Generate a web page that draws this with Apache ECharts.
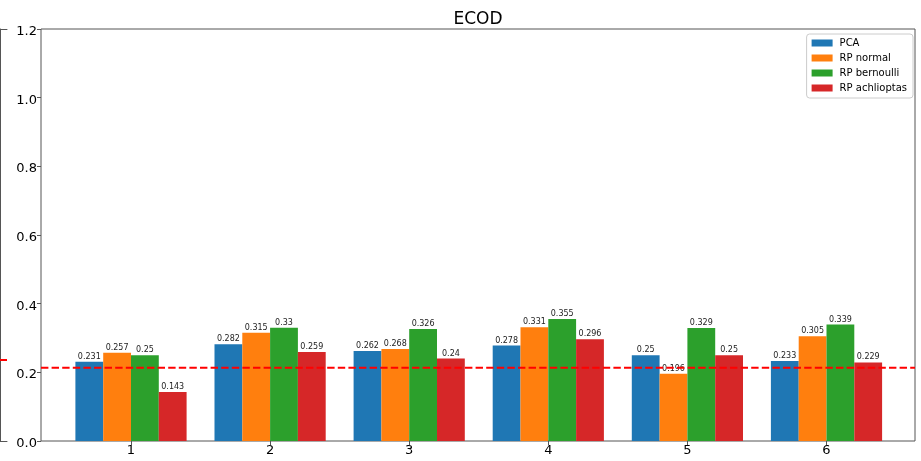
<!DOCTYPE html>
<html>
<head>
<meta charset="utf-8">
<script src="https://cdn.jsdelivr.net/npm/echarts@6/dist/echarts.min.js"></script>
<style>html,body{margin:0;padding:0;background:#fff}#c{width:921px;height:461px}</style>
</head>
<body>
<div id="c"></div>
<script>
const categories = ['1', '2', '3', '4', '5', '6'];
const seriesNames = ['PCA', 'RP normal', 'RP bernoulli', 'RP achlioptas'];
const pca = [0.231, 0.282, 0.262, 0.278, 0.25, 0.233];
const rpNormal = [0.257, 0.315, 0.268, 0.331, 0.196, 0.305];
const rpBernoulli = [0.25, 0.33, 0.326, 0.355, 0.329, 0.339];
const rpAchlioptas = [0.143, 0.259, 0.24, 0.296, 0.25, 0.229];
const yTicks = [0, 0.2, 0.4, 0.6, 0.8, 1.0, 1.2];
const threshold = 0.2135;
const leftPanelThreshold = 0.236;

const colors = ['#1f77b4', '#ff7f0e', '#2ca02c', '#d62728'];
const values = [pca, rpNormal, rpBernoulli, rpAchlioptas];
const FONT = 'DejaVu Sans';
const spine = '#555';

const chart = echarts.init(document.getElementById('c'), null, {renderer: 'canvas'});

const barSeries = seriesNames.map((name, i) => ({
  name: name,
  type: 'bar',
  xAxisIndex: 1,
  yAxisIndex: 1,
  data: values[i],
  barWidth: 27.8,
  barGap: '0%',
  itemStyle: {color: colors[i]},
  label: {
    show: true,
    position: 'top',
    distance: 1,
    fontFamily: FONT,
    fontSize: 8,
    color: '#222',
    formatter: p => String(p.value)
  },
  z: 2
}));

const hiddenLineAxis = (pos) => ({
  gridIndex: 2, type: 'value', min: 0, max: 1, position: pos,
  axisLine: {show: true, lineStyle: {color: spine, width: 1}},
  axisTick: {show: false}, axisLabel: {show: false}, splitLine: {show: false}
});

const option = {
  animation: false,
  backgroundColor: '#fff',
  title: {
    text: 'ECOD',
    left: 478,
    textAlign: 'center',
    top: 11,
    padding: 0,
    textStyle: {fontFamily: FONT, fontSize: 17, fontWeight: 'normal', color: '#000'}
  },
  legend: {
    data: seriesNames,
    orient: 'vertical',
    right: 8,
    top: 34,
    padding: [3, 6, 4, 5],
    itemWidth: 21,
    itemHeight: 7,
    itemGap: 3,
    icon: 'rect',
    borderColor: '#ccc',
    borderWidth: 1,
    borderRadius: 3,
    backgroundColor: '#fff',
    textStyle: {fontFamily: FONT, fontSize: 10, color: '#000', lineHeight: 12, padding: [0, 0, 0, 2]}
  },
  grid: [
    {left: 41, right: 6, top: 29, bottom: 20, show: true, borderColor: spine, borderWidth: 1, backgroundColor: 'transparent', containLabel: false},
    {left: 61.45, right: 24.95, top: 29, bottom: 20, containLabel: false},
    {left: 0, width: 7, top: 29, bottom: 20, show: false, containLabel: false}
  ],
  xAxis: [
    {gridIndex: 0, type: 'value', min: 0, max: 1, show: false},
    {gridIndex: 1, type: 'category', data: categories,
      axisLine: {show: false},
      axisTick: {show: true, alignWithLabel: true, length: 4, lineStyle: {color: spine}},
      axisLabel: {fontFamily: FONT, fontSize: 13, color: '#000', margin: 3},
      splitLine: {show: false}
    },
    hiddenLineAxis('bottom'),
    hiddenLineAxis('top')
  ],
  yAxis: [
    {gridIndex: 0, type: 'value', min: 0, max: 1.2, interval: 0.2,
      axisLine: {show: false},
      axisTick: {show: true, length: 4, lineStyle: {color: spine}},
      axisLabel: {margin: 4,
        formatter: v => yTicks.some(t => Math.abs(t - v) < 1e-9) ? '{t|' + v.toFixed(1) + '}' : '',
        rich: {t: {fontFamily: FONT, fontSize: 13, color: '#000', padding: [5, 0, 0, 0]}}
      },
      splitLine: {show: false}
    },
    {gridIndex: 1, type: 'value', min: 0, max: 1.2, show: false, splitLine: {show: false}},
    {gridIndex: 2, type: 'value', min: 0, max: 1.2, position: 'right',
      axisLine: {show: true, lineStyle: {color: spine, width: 1}},
      axisTick: {show: false}, axisLabel: {show: false}, splitLine: {show: false}
    }
  ],
  series: barSeries.concat([
    {
      name: 'threshold',
      type: 'line',
      xAxisIndex: 0,
      yAxisIndex: 0,
      data: [[0, threshold], [1, threshold]],
      showSymbol: false,
      symbol: 'none',
      silent: true,
      lineStyle: {color: '#ff0000', width: 2, type: [7.4, 3.2]},
      z: 10
    },
    {
      name: 'leftThreshold',
      type: 'line',
      xAxisIndex: 2,
      yAxisIndex: 2,
      data: [[0, leftPanelThreshold], [1, leftPanelThreshold]],
      showSymbol: false,
      symbol: 'none',
      silent: true,
      lineStyle: {color: '#ff0000', width: 2, type: [7.4, 3.2]},
      z: 10
    }
  ])
};
chart.setOption(option);
</script>
</body>
</html>
